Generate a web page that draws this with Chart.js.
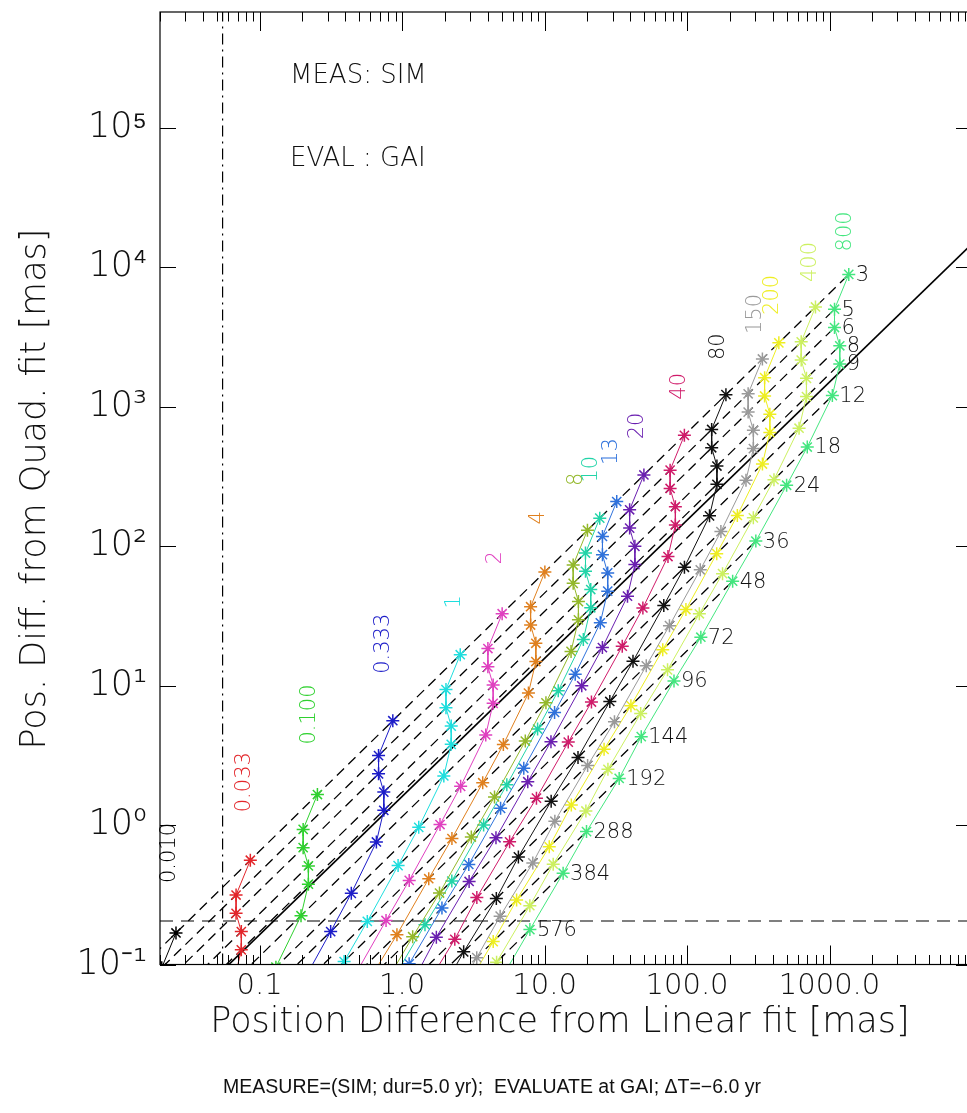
<!DOCTYPE html>
<html><head><meta charset="utf-8">
<script src="https://cdn.jsdelivr.net/npm/chart.js@4.4.0/dist/chart.umd.min.js"></script>
<style>html,body{margin:0;padding:0;overflow:hidden;background:#fff;}#wrap{width:1000px;height:1113px;}</style>
</head><body><div id="wrap"><canvas id="c" width="1000" height="1113"></canvas></div>
<script>
// ---- data ----
// period labels along the right-most (800) series
const periodLabels = ['3','5','6','8','9','12','18','24','36','48','72','96','144','192','288','384','576'];
// stars of the 800 series (mas); last entry is the off-chart continuation below 576
const x800 = [1365,1084,1084,1180,1180,1047,698,500,304,209,125,81,47.7,33.4,19.7,13.5,7.89,5.0];
const y800 = [8870,4990,3690,2730,2020,1199,513,273,108.6,56,22.2,10.8,4.3,2.16,0.897,0.452,0.178,0.08];
// series labels and the x of each series' top (period 3) star (mas)
const seriesLabels = ['0.010','0.033','0.100','0.333','1','2','4','8','10','13','20','40','80','150','200','400','800'];
const seriesTopX = [0.0259,0.0861,0.2546,0.861,2.56,5.04,10.05,20.0,24.4,32.1,49.8,95.8,187.5,338,441,797,1365];
// reference lines
const refLineX = [0.06, 10000];
const refLineY = [0.0985, 14700];
const horizLineY = 0.205;
const vertLineX = 0.055;
// axis ticks
const xTickVals = [0.1, 1, 10, 100, 1000];
const xTickLabels = ['0.1','1.0','10.0','100.0','1000.0'];
const yTickVals = [0.1, 1, 10, 100, 1000, 10000, 100000];
const yTickLabels = ['10\u207B\u00B9','10\u2070','10\u00B9','10\u00B2','10\u00B3','10\u2074','10\u2075'];

// ---- styles ----
const seriesColors = ['#000000','#e3262b','#2fd12f','#1c1cc8','#1fdede','#e040c0','#e0801e','#93b82a','#22d4a8','#2f72dc','#6a1fb0','#d01b6a','#111111','#9a9a9a','#eeee22','#ccf060','#44e67f'];
const labelOffsets = [[-6,-80],[-6,-78],[-8,-80],[-9,-77],[-6,-53],[-7,-56],[-6,-54],[-11,-51],[-8,-49],[-5,-50],[-6,-49],[-5,-49],[-7,-48],[-7,-45],[-6,-48],[-5,-45],[-3,-43]];
const FONT = "'DejaVu Sans', sans-serif";

// ---- build datasets ----
const nLab = periodLabels.length;
const datasets = [];
seriesLabels.forEach((lab, i) => {
  const k = seriesTopX[i] / x800[0];
  datasets.push({
    label: lab, order: 1,
    data: x800.map((xv, j) => ({x: xv * k, y: y800[j] * k})),
    showLine: true, borderColor: seriesColors[i], backgroundColor: seriesColors[i],
    borderWidth: 1, pointStyle: 'star', pointRadius: 6.5, pointBorderWidth: 1.5,
    pointBorderColor: seriesColors[i]
  });
});
const lineStart = 1e-6;
for (let j = 0; j < nLab; j++) {
  datasets.push({
    label: 'P' + periodLabels[j], order: 2,
    data: [{x: x800[j] * lineStart, y: y800[j] * lineStart}, {x: x800[j], y: y800[j]}],
    showLine: true, borderColor: '#000', borderWidth: 1.3, borderDash: [10, 6], pointRadius: 0
  });
}
datasets.push({label: 'ref', order: 2, data: refLineX.map((v, i) => ({x: v, y: refLineY[i]})),
  showLine: true, borderColor: '#000', borderWidth: 1.6, pointRadius: 0});
datasets.push({label: 'h', order: 2, data: [{x: 0.02, y: horizLineY}, {x: 10000, y: horizLineY}],
  showLine: true, borderColor: '#000', borderWidth: 1.2, borderDash: [13, 8], pointRadius: 0});
datasets.push({label: 'v', order: 2, data: [{x: vertLineX, y: 0.1}, {x: vertLineX, y: 6.75e5}],
  showLine: true, borderColor: '#000', borderWidth: 1.2, borderDash: [11, 5, 2, 5], pointRadius: 0});

function seg(ctx, x1, y1, x2, y2) { ctx.beginPath(); ctx.moveTo(x1, y1); ctx.lineTo(x2, y2); ctx.stroke(); }

const decor = {
  id: 'decor',
  afterDatasetsDraw(chart) {
    const {ctx, chartArea: a} = chart;
    const xs = chart.scales.x, ys = chart.scales.y;
    ctx.save();
    ctx.strokeStyle = '#000'; ctx.lineWidth = 1.2;
    ctx.strokeRect(a.left, a.top, a.right - a.left, a.bottom - a.top);
    ctx.lineWidth = 1;
    for (let d = -2; d <= 3; d++) for (let m = 1; m <= 9; m++) {
      const v = m * Math.pow(10, d);
      if (v < xs.min || v > xs.max) continue;
      const px = Math.round(xs.getPixelForValue(v)) + 0.5;
      const len = m === 1 ? 19 : 9.5;
      seg(ctx, px, a.bottom, px, a.bottom - len);
      seg(ctx, px, a.top, px, a.top + len);
    }
    for (const v of yTickVals) {
      if (v < ys.min || v > ys.max) continue;
      const py = Math.round(ys.getPixelForValue(v)) + 0.5;
      seg(ctx, a.left, py, a.left + 16, py);
      seg(ctx, a.right, py, a.right - 16, py);
    }
    // period labels next to the 800 series
    ctx.fillStyle = '#111'; ctx.font = '300 21px ' + FONT; ctx.textAlign = 'left'; ctx.textBaseline = 'middle';
    for (let j = 0; j < nLab; j++) {
      ctx.fillText(periodLabels[j], xs.getPixelForValue(x800[j]) + 7, ys.getPixelForValue(y800[j]) + 1);
    }
    // series labels (rotated)
    seriesLabels.forEach((lab, i) => {
      const k = seriesTopX[i] / x800[0];
      const px = xs.getPixelForValue(seriesTopX[i]) + labelOffsets[i][0];
      const py = ys.getPixelForValue(y800[0] * k) + labelOffsets[i][1];
      ctx.save(); ctx.translate(px, py); ctx.rotate(-Math.PI / 2);
      ctx.fillStyle = seriesColors[i]; ctx.textAlign = 'center'; ctx.textBaseline = 'middle';
      ctx.fillText(lab, 0, 0); ctx.restore();
    });
    // annotations
    ctx.fillStyle = '#111'; ctx.font = '300 26px ' + FONT; ctx.textAlign = 'left';
    ctx.fillText('MEAS: SIM', 290, 76);
    ctx.fillText('EVAL : GAI', 290, 159);
    // axis titles
    ctx.font = '300 35px ' + FONT; ctx.textAlign = 'center';
    ctx.fillText('Position Difference from Linear fit [mas]', 560, 1023);
    ctx.save(); ctx.translate(36, 489); ctx.rotate(-Math.PI / 2);
    ctx.fillText('Pos. Diff. from Quad. fit [mas]', 0, 0); ctx.restore();
    ctx.font = "19.5px 'Liberation Sans Narrow', 'Liberation Sans', sans-serif";
    ctx.fillText('MEASURE=(SIM; dur=5.0 yr);  EVALUATE at GAI; \u0394T=\u22126.0 yr', 492, 1088);
    ctx.restore();
  }
};

new Chart(document.getElementById('c'), {
  type: 'scatter',
  data: {datasets},
  options: {
    responsive: false, animation: false, devicePixelRatio: 1,
    layout: {padding: {left: 0, top: 12, right: 28, bottom: 0}},
    plugins: {legend: {display: false}, tooltip: {enabled: false}},
    elements: {line: {tension: 0}},
    scales: {
      x: {type: 'logarithmic', min: 0.02, max: 10000,
        grid: {display: false, drawTicks: false}, border: {display: false},
        afterBuildTicks: s => { s.ticks = xTickVals.map(v => ({value: v})); },
        afterFit: s => { s.height = 148.5; s.paddingLeft = 0; s.paddingRight = 0; },
        ticks: {autoSkip: false, maxRotation: 0, padding: 5, color: '#111',
          font: {family: FONT, size: 29, weight: 300}, callback: (v) => xTickLabels[xTickVals.indexOf(v)] ?? ''}},
      y: {type: 'logarithmic', min: 0.1, max: 6.75e5,
        grid: {display: false, drawTicks: false}, border: {display: false},
        afterBuildTicks: s => { s.ticks = yTickVals.map(v => ({value: v})); },
        afterFit: s => { s.width = 160; s.paddingTop = 0; s.paddingBottom = 0; },
        ticks: {autoSkip: false, padding: 13, color: '#111',
          font: {family: FONT, size: 35, weight: 300}, callback: (v) => yTickLabels[yTickVals.indexOf(v)] ?? ''}}
    }
  },
  plugins: [decor]
});
</script></body></html>
